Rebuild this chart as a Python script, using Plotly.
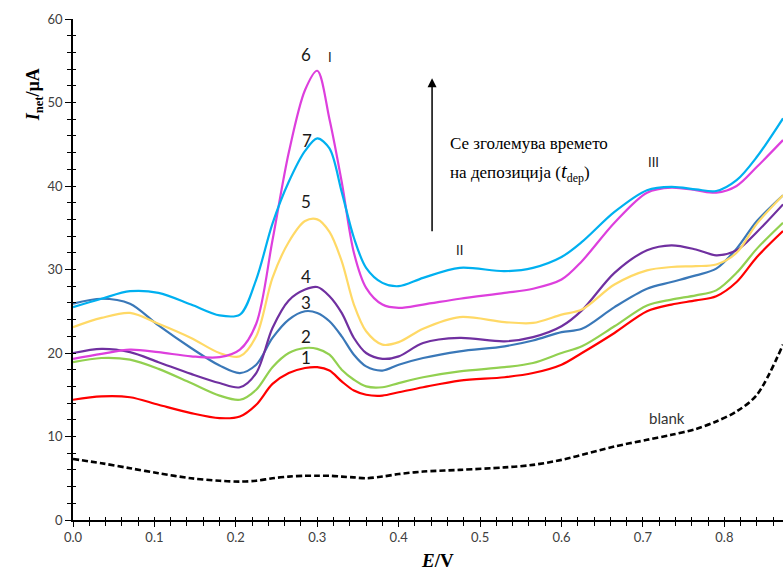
import plotly.graph_objects as go

# Potential grid (V) shared by all voltammograms
E = [0.000, 0.035, 0.070, 0.105, 0.145, 0.180, 0.205, 0.225, 0.245, 0.265,
     0.285, 0.300, 0.315, 0.330, 0.345, 0.360, 0.380, 0.400, 0.430, 0.475,
     0.530, 0.565, 0.600, 0.625, 0.665, 0.705, 0.735, 0.765, 0.790, 0.815,
     0.840, 0.872]

# Net currents (µA) for increasing deposition time, 1 → 7, and the blank
I_1 = [14.4, 14.8, 14.7, 13.8, 12.8, 12.2, 12.4, 13.8, 16.3, 17.6,
       18.2, 18.3, 17.9, 16.6, 15.5, 15.0, 14.9, 15.3, 15.9, 16.7,
       17.1, 17.6, 18.6, 20.0, 22.4, 25.0, 25.8, 26.3, 26.8, 28.5,
       31.5, 34.6]
I_2 = [18.9, 19.4, 19.2, 18.1, 16.4, 14.9, 14.4, 15.6, 18.3, 20.0,
       20.6, 20.5, 19.8, 18.0, 16.8, 16.0, 15.9, 16.4, 17.1, 17.8,
       18.3, 18.8, 20.0, 20.8, 23.2, 25.7, 26.4, 26.9, 27.5, 29.6,
       32.5, 35.6]
I_3 = [25.9, 26.5, 25.9, 23.3, 20.6, 18.5, 17.6, 18.6, 21.8, 24.0,
       25.0, 24.8, 23.8, 22.0, 19.8, 18.4, 17.9, 18.6, 19.4, 20.2,
       20.8, 21.5, 22.5, 22.9, 25.5, 27.7, 28.5, 29.3, 30.1, 32.5,
       35.8, 38.9]
I_4 = [20.0, 20.5, 20.1, 18.9, 17.5, 16.4, 15.9, 17.6, 23.0, 26.3,
       27.6, 27.9, 26.8, 24.8, 21.8, 20.0, 19.3, 19.6, 21.2, 21.8,
       21.4, 21.9, 23.2, 25.1, 29.6, 32.3, 32.9, 32.4, 31.7, 32.3,
       34.5, 37.8]
I_5 = [23.1, 24.2, 24.8, 23.5, 21.8, 20.0, 19.6, 22.0, 29.0, 33.3,
       35.8, 36.0, 34.5, 31.0, 25.8, 22.6, 21.0, 21.3, 22.9, 24.3,
       23.7, 23.6, 24.6, 25.2, 28.2, 29.9, 30.3, 30.4, 30.6, 32.0,
       35.5, 38.9]
I_6 = [19.3, 19.9, 20.4, 20.1, 19.6, 19.5, 20.4, 23.5, 33.5, 44.0,
       51.5, 53.8, 48.0, 40.5, 32.0, 27.8, 25.8, 25.4, 25.8, 26.5,
       27.2, 27.7, 28.8, 31.0, 35.6, 39.2, 39.8, 39.5, 39.2, 40.0,
       42.3, 45.5]
I_7 = [25.5, 26.5, 27.4, 27.2, 25.8, 24.5, 24.6, 28.8, 35.5, 40.5,
       44.2, 45.7, 44.5, 39.3, 33.8, 30.2, 28.4, 28.0, 29.0, 30.2,
       29.8, 30.2, 31.5, 33.3, 36.9, 39.5, 39.9, 39.6, 39.4, 40.7,
       43.5, 48.1]
I_blank = [7.3, 6.8, 6.2, 5.6, 5.0, 4.7, 4.6, 4.7, 5.0, 5.2,
           5.3, 5.3, 5.3, 5.2, 5.1, 5.0, 5.2, 5.5, 5.8, 6.0,
           6.3, 6.6, 7.2, 7.8, 8.8, 9.6, 10.2, 10.9, 11.8, 13.0,
           15.0, 21.0]

series = [
    ("1", I_1, "#ff0000"),
    ("2", I_2, "#92d050"),
    ("3", I_3, "#3a78b8"),
    ("4", I_4, "#7030a0"),
    ("5", I_5, "#ffd966"),
    ("6", I_6, "#dd3fdd"),
    ("7", I_7, "#00b0f0"),
]

# Curve number labels: (text, E, I)
curve_labels = [("6", 0.286, 55.7), ("7", 0.287, 45.5), ("5", 0.286, 38.1),
                ("4", 0.286, 29.2), ("3", 0.286, 26.1), ("2", 0.286, 22.0),
                ("1", 0.286, 19.5)]
peak_labels = [("I", 0.316, 55.4), ("II", 0.475, 32.3), ("III", 0.713, 42.9)]

x_ticks = [0.0, 0.1, 0.2, 0.3, 0.4, 0.5, 0.6, 0.7, 0.8]
y_ticks = [0, 10, 20, 30, 40, 50, 60]
X_RANGE = [0, 0.872]
Y_RANGE = [0, 60]

fig = go.Figure()

fig.add_trace(go.Scatter(x=E, y=I_blank, mode="lines", name="blank",
                         line=dict(color="black", width=2.6, dash="6px,3px",
                                   shape="spline", smoothing=0.9)))
for name, vals, col in series:
    fig.add_trace(go.Scatter(x=E, y=vals, mode="lines", name=name,
                             line=dict(color=col, width=2.2,
                                       shape="spline", smoothing=0.9)))

tick_font = dict(family="Lato, Open Sans, sans-serif", size=13, color="#404040")

fig.update_layout(
    width=783, height=582,
    margin=dict(l=73, r=0, t=19, b=62),
    paper_bgcolor="white", plot_bgcolor="white",
    showlegend=False,
    xaxis=dict(range=X_RANGE, tickvals=x_ticks, tickformat=".1f",
               showgrid=False, zeroline=False, showline=True,
               linecolor="black", linewidth=1.5,
               ticks="outside", ticklen=5, tickcolor="black", tickwidth=1.3,
               minor=dict(dtick=0.02, ticks="outside", ticklen=4,
                          tickcolor="black", tickwidth=1.3),
               tickfont=tick_font),
    yaxis=dict(range=Y_RANGE, tickvals=y_ticks,
               showgrid=False, zeroline=False, showline=True,
               linecolor="black", linewidth=1.5,
               ticks="outside", ticklen=6, tickcolor="black", tickwidth=1.3,
               minor=dict(dtick=2, ticks="outside", ticklen=4,
                          tickcolor="black", tickwidth=1.3),
               tickfont=tick_font),
    # overlay axes give the ticks their inner half so they cross the axis lines
    xaxis2=dict(range=X_RANGE, overlaying="x", side="bottom", anchor="y",
                showgrid=False, zeroline=False, showline=False,
                tickvals=x_ticks, showticklabels=False,
                ticks="inside", ticklen=3, tickcolor="black", tickwidth=1.3,
                minor=dict(dtick=0.02, ticks="inside", ticklen=3,
                           tickcolor="black", tickwidth=1.3)),
    yaxis2=dict(range=Y_RANGE, overlaying="y", side="left", anchor="x",
                showgrid=False, zeroline=False, showline=False,
                tickvals=y_ticks, showticklabels=False,
                ticks="inside", ticklen=3, tickcolor="black", tickwidth=1.3,
                minor=dict(dtick=2, ticks="inside", ticklen=3,
                           tickcolor="black", tickwidth=1.3)),
)

fig.add_trace(go.Scatter(x=[], y=[], xaxis="x2", yaxis="y2",
                         showlegend=False, hoverinfo="skip"))

label_font = dict(family="Lato, Open Sans, sans-serif", size=17, color="#1a1a1a")
for txt, ex, iy in curve_labels:
    fig.add_annotation(x=ex, y=iy, text=txt, showarrow=False, font=label_font)

for txt, ex, iy in peak_labels:
    fig.add_annotation(x=ex, y=iy, text=txt, showarrow=False,
                       font=dict(family="Lato, Open Sans, sans-serif",
                                 size=13, color="#1a1a1a"))

fig.add_annotation(x=0.730, y=12.2, text="blank", showarrow=False,
                   font=dict(family="Lato, Open Sans, sans-serif",
                             size=15, color="#333333"))

# Arrow pointing towards longer deposition times
fig.add_annotation(x=0.441, y=52.9, ax=0.441, ay=34.4, xref="x", yref="y",
                   axref="x", ayref="y", text="", showarrow=True,
                   arrowhead=2, arrowsize=1.2, arrowwidth=1.5,
                   arrowcolor="black")

serif = "Liberation Serif, Times New Roman, serif"
cyr_serif = '"Liberation Serif", "DejaVu Serif", serif'
fig.add_annotation(x=0.461, y=45.1, xanchor="left", text="Се зголемува времето",
                   showarrow=False,
                   font=dict(family=cyr_serif, size=17, color="black"))
fig.add_annotation(x=0.461, y=41.7, xanchor="left",
                   text="на депозиција (<i><span style='font-size:21px'>t</span></i>"
                        "<sub>dep</sub>)",
                   showarrow=False,
                   font=dict(family=cyr_serif, size=17, color="black"))

# Axis titles
fig.add_annotation(xref="paper", x=-0.072, yref="y", y=50.9, textangle=-90,
                   text="<b><i>I</i></b><sub><b>net</b></sub><b>/µA</b>",
                   showarrow=False, font=dict(family=serif, size=18, color="black"))
fig.add_annotation(xref="paper", x=0.513, yref="paper", y=-0.106,
                   text="<b><i>E</i>/V</b>", showarrow=False,
                   font=dict(family=serif, size=19, color="black"))

fig.write_html("out.html")
